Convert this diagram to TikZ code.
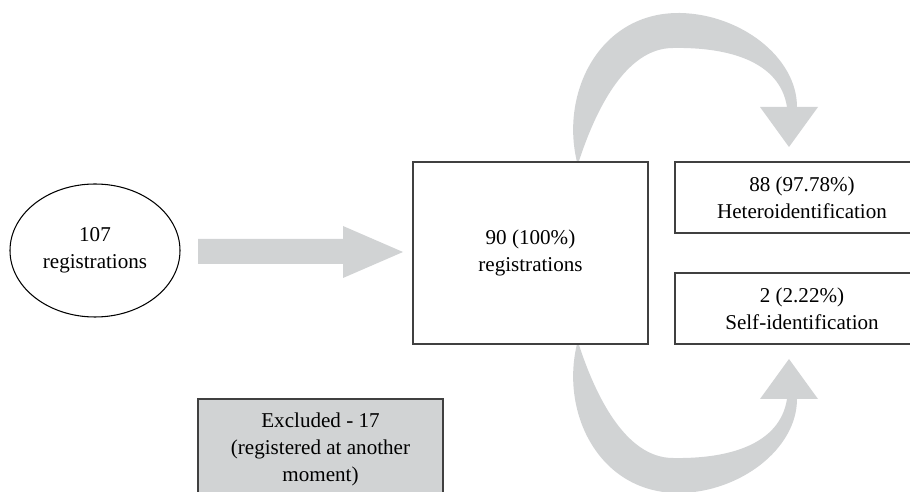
\documentclass[tikz,border=0pt]{standalone}
\usepackage{fontspec}
\setmainfont{Liberation Serif}
\usetikzlibrary{positioning, calc, backgrounds, shapes.geometric}
\definecolor{arrfill}{HTML}{D1D3D4}
\definecolor{boxline}{HTML}{404040}
\tikzset{
  box/.style  = {draw=boxline, line width=0.6pt, fill=white, align=center,
                 inner sep=0pt, font=\fontsize{12}{15.4}\selectfont},
  oval/.style = {box, ellipse, draw=black, minimum width=3.4cm, minimum height=2.66cm},
  res/.style  = {box, minimum width=5.08cm, minimum height=1.42cm},
  excl/.style = {box, fill=arrfill, minimum width=4.9cm, minimum height=2.02cm},
  blk/.style  = {fill=arrfill},
}

\begin{document}
\begin{tikzpicture}
\useasboundingbox (0,0) rectangle (18.2,9.84);

% =========================================================================
% Registros
% =========================================================================
\node[oval] (reg) at (1.9,4.83) {107\\registrations};
\node[box, minimum width=4.7cm, minimum height=3.64cm] (tot) at (10.61,4.78)
  {90 (100\%)\\registrations};
\node[res] (het)  at (16.04,5.89) {88 (97.78\%)\\Heteroidentification};
\node[res] (self) at (16.04,3.67) {2 (2.22\%)\\Self-identification};
\node[excl] (exc) at (6.41,0.85) {Excluded - 17\\(registered at another\\moment)};

% flecha recta
\fill[blk] (3.96,4.56) -- (6.86,4.56) -- (6.86,4.28) -- (8.06,4.80)
  -- (6.86,5.32) -- (6.86,5.06) -- (3.96,5.06) -- cycle;

% flechas curvas (arriba / abajo)
\begin{scope}[on background layer]
\foreach \s in {1,-1} {
  \begin{scope}[shift={(tot.center)}, yscale=\s]
    \fill[blk] (0.93,1.82) .. controls (0.59,3.22) and (1.39,4.82) .. (2.99,4.80)
      .. controls (4.19,4.78) and (5.33,3.92) .. (5.33,2.92)
      -- (5.75,2.92) -- (5.17,2.12) -- (4.59,2.92) -- (5.13,2.92)
      .. controls (4.99,3.82) and (3.99,4.12) .. (2.85,4.10)
      .. controls (1.89,4.10) and (1.29,2.82) .. (0.97,1.84) -- cycle;
  \end{scope}
}
\end{scope}

\end{tikzpicture}
\end{document}
